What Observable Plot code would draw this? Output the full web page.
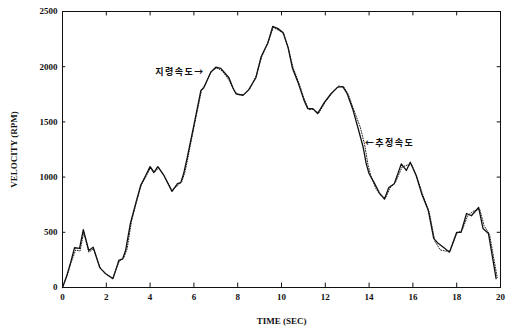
<!DOCTYPE html>
<html>
<head>
<meta charset="utf-8">
<script src="https://cdn.jsdelivr.net/npm/d3@7"></script>
<script src="https://cdn.jsdelivr.net/npm/@observablehq/plot@0.6"></script>
<style>
  html, body { margin: 0; padding: 0; background: #fff; }
  #chart { width: 510px; height: 333px; }
  .kor text { letter-spacing: 1.5px; }
</style>
</head>
<body>
<div id="chart"></div>
<script>
// Command speed (solid)
const cmdTime = [0,0.2,0.37,0.55,0.78,0.95,1.2,1.4,1.6,1.7,1.97,2.3,2.43,2.57,2.75,2.88,3.1,3.34,3.57,3.8,4.0,4.17,4.35,4.63,5.0,5.25,5.4,5.53,5.7,6.0,6.32,6.45,6.77,7.0,7.23,7.6,7.78,7.92,8.24,8.5,8.83,9.06,9.2,9.37,9.6,9.84,10.07,10.3,10.5,10.75,11.03,11.2,11.43,11.65,11.95,12.26,12.57,12.8,13.0,13.27,13.5,13.73,13.87,14.0,14.23,14.46,14.7,14.9,15.15,15.47,15.7,15.88,16.15,16.4,16.7,16.95,17.15,17.45,17.67,18.0,18.2,18.45,18.67,19.0,19.2,19.45,19.8];
const cmdSpeed = [0,110,225,360,355,525,335,365,245,180,125,80,155,245,260,335,580,760,925,1015,1095,1040,1095,1015,870,940,950,1030,1180,1470,1785,1810,1950,1995,1985,1900,1810,1755,1740,1790,1900,2085,2145,2210,2365,2345,2310,2175,1985,1860,1695,1620,1620,1575,1675,1755,1815,1820,1755,1605,1440,1270,1120,1030,950,860,800,905,940,1120,1060,1135,1015,850,700,445,400,355,320,500,500,670,650,725,535,490,80];

// Estimated speed (dotted)
const estTime = [0,0.2,0.4,0.6,0.8,0.97,1.2,1.42,1.6,1.75,2.0,2.3,2.45,2.6,2.8,2.95,3.15,3.4,3.6,3.85,4.03,4.2,4.4,4.65,5.0,5.3,5.45,5.6,5.75,6.05,6.35,6.5,6.8,7.05,7.3,7.6,7.82,8.0,8.3,8.55,8.85,9.1,9.25,9.4,9.63,9.87,10.1,10.32,10.53,10.8,11.05,11.25,11.45,11.7,12.0,12.3,12.6,12.85,13.05,13.3,13.6,13.8,13.95,14.1,14.3,14.5,14.75,14.95,15.2,15.5,15.75,15.95,16.2,16.45,16.75,17.0,17.25,17.5,17.7,18.0,18.25,18.5,18.75,19.05,19.25,19.5,19.85];
const estSpeed = [0,100,230,340,330,500,320,350,240,170,120,85,170,240,270,350,600,790,930,1020,1090,1045,1085,1010,880,930,960,1050,1200,1500,1790,1830,1960,1990,1960,1880,1790,1745,1750,1800,1920,2090,2160,2230,2355,2330,2300,2160,1990,1850,1700,1610,1615,1580,1680,1760,1825,1815,1750,1610,1450,1290,1110,1000,900,840,810,900,950,1090,1110,1110,990,840,680,420,340,330,330,490,520,650,690,710,560,480,90];

const xTicks = [0,2,4,6,8,10,12,14,16,18,20];
const yTicks = [0,500,1000,1500,2000,2500];

const labelTexts = ["지령속도→", "←추정속도"];
const labelTime = [6.5, 13.8];
const labelSpeed = [1950, 1310];

const cmd = cmdTime.map((t, i) => ({t, v: cmdSpeed[i]}));
const est = estTime.map((t, i) => ({t, v: estSpeed[i]}));
const labels = labelTexts.map((s, i) => ({s, t: labelTime[i], v: labelSpeed[i]}));

const korFont = {fontFamily: "'Noto Sans CJK KR', sans-serif", fontSize: 9, fontWeight: "bold", fill: "#111", className: "kor"};

const chart = Plot.plot({
  width: 510,
  height: 333,
  marginLeft: 62,
  marginRight: 10,
  marginTop: 11,
  marginBottom: 46,
  style: {fontFamily: "'Liberation Serif', serif", fontSize: "9px", fontWeight: "bold", background: "#fff", color: "#111"},
  x: {domain: [0, 20]},
  y: {domain: [0, 2500]},
  marks: [
    Plot.frame({stroke: "#111", strokeWidth: 1}),
    // tick marks inside the frame on all four sides
    Plot.ruleX(xTicks, {y1: 0, y2: 40, stroke: "#111"}),
    Plot.ruleX(xTicks, {y1: 2460, y2: 2500, stroke: "#111"}),
    Plot.ruleY(yTicks, {x1: 0, x2: 0.15, stroke: "#111"}),
    Plot.ruleY(yTicks, {x1: 19.85, x2: 20, stroke: "#111"}),
    Plot.axisX({ticks: xTicks, tickSize: 0, tickPadding: 6, tickFormat: d => String(d),
      label: "TIME (SEC)", labelAnchor: "center", labelOffset: 36, labelArrow: "none"}),
    Plot.axisY({ticks: yTicks, tickSize: 0, tickPadding: 5, tickFormat: d => String(d),
      label: "VELOCITY (RPM)", labelAnchor: "center", labelOffset: 52, labelArrow: "none"}),
    Plot.line(est, {x: "t", y: "v", stroke: "#222", strokeWidth: 1, strokeDasharray: "1,1.6"}),
    Plot.line(cmd, {x: "t", y: "v", stroke: "#111", strokeWidth: 1.3}),
    Plot.text(labels.slice(0, 1), {x: "t", y: "v", text: "s", textAnchor: "end", ...korFont}),
    Plot.text(labels.slice(1, 2), {x: "t", y: "v", text: "s", textAnchor: "start", ...korFont})
  ]
});
document.getElementById("chart").appendChild(chart);
</script>
</body>
</html>
